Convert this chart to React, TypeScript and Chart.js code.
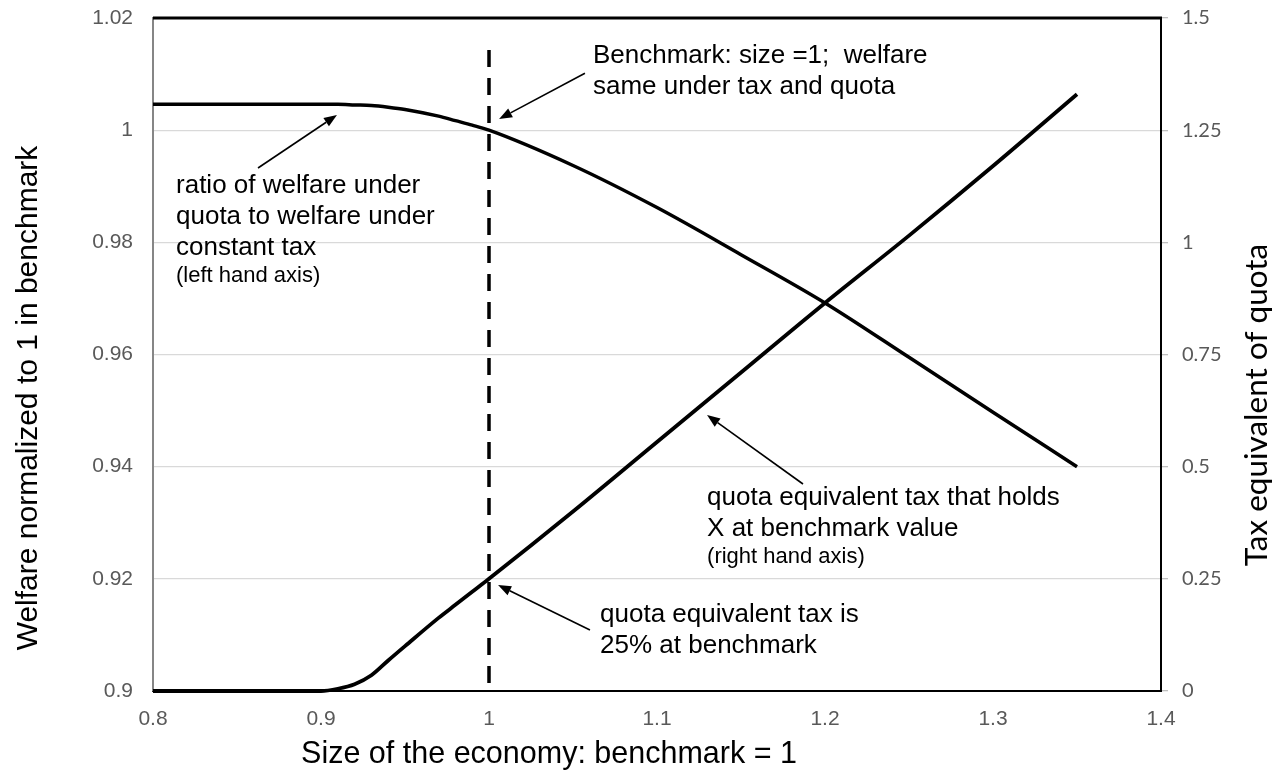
import React, { useEffect, useRef } from "react";
import { Chart, registerables } from "chart.js";

Chart.register(...registerables);

// ---------- data ----------
const sizeValues = [0.8, 0.85, 0.9, 0.91, 0.92, 0.93, 0.94, 0.95, 0.97, 0.98, 0.99, 1.0, 1.05, 1.1, 1.15, 1.2, 1.25, 1.3, 1.35];
const welfareRatio = [1.0046, 1.0046, 1.0046, 1.0046, 1.0045, 1.0044, 1.0041, 1.0037, 1.0025, 1.0017, 1.0009, 1.0, 0.9937, 0.9862, 0.9778, 0.9692, 0.9595, 0.9497, 0.94];
const quotaTax = [0, 0, 0, 0.005, 0.015, 0.035, 0.068, 0.1, 0.163, 0.192, 0.221, 0.25, 0.4, 0.555, 0.71, 0.865, 1.015, 1.17, 1.33];
const benchmarkX = [1.0, 1.0];
const benchmarkY = [1.0143, 0.9];

const xTicks = [0.8, 0.9, 1, 1.1, 1.2, 1.3, 1.4];
const leftTicks = [0.9, 0.92, 0.94, 0.96, 0.98, 1, 1.02];
const rightTicks = [0, 0.25, 0.5, 0.75, 1, 1.25, 1.5];

const xTitle = "Size of the economy: benchmark = 1";
const leftTitle = "Welfare normalized to 1 in benchmark";
const rightTitle = "Tax equivalent of quota";

// annotation anchors in data units (x, left-axis y)
const annotations = [
  {
    lines: ["ratio of welfare under", "quota to welfare under", "constant tax"],
    note: "(left hand axis)",
    at: [0.8137, 0.9888],
    from: [0.8625, 0.99326],
    to: [0.9095, 1.00271],
  },
  {
    lines: ["Benchmark: size =1;  welfare", "same under tax and quota"],
    note: "",
    at: [1.0619, 1.01198],
    from: [1.0571, 1.01015],
    to: [1.006, 1.00199],
  },
  {
    lines: ["quota equivalent tax that holds", "X at benchmark value"],
    note: "(right hand axis)",
    at: [1.1298, 0.93317],
    from: [1.1869, 0.93691],
    to: [1.1298, 0.94921],
  },
  {
    lines: ["quota equivalent tax is", "25% at benchmark"],
    note: "",
    at: [1.0661, 0.9123],
    from: [1.0601, 0.91088],
    to: [1.0054, 0.9189],
  },
];

const ARIAL = '"Liberation Sans", Arial, Helvetica, sans-serif';
const LATO = 'Lato, "Liberation Sans", sans-serif';

function drawArrow(ctx: CanvasRenderingContext2D, x1: number, y1: number, x2: number, y2: number) {
  const ang = Math.atan2(y2 - y1, x2 - x1);
  const headLen = 13;
  const headW = 5;
  const bx = x2 - headLen * Math.cos(ang);
  const by = y2 - headLen * Math.sin(ang);
  ctx.strokeStyle = "#000";
  ctx.lineWidth = 1.6;
  ctx.beginPath();
  ctx.moveTo(x1, y1);
  ctx.lineTo(bx, by);
  ctx.stroke();
  ctx.fillStyle = "#000";
  ctx.beginPath();
  ctx.moveTo(x2, y2);
  ctx.lineTo(bx + headW * Math.sin(ang), by - headW * Math.cos(ang));
  ctx.lineTo(bx - headW * Math.sin(ang), by + headW * Math.cos(ang));
  ctx.closePath();
  ctx.fill();
}

const overlayPlugin = {
  id: "overlay",
  afterDraw(chart: any) {
    const { ctx, chartArea, scales } = chart;
    const xs = scales.x;
    const ys = scales.y;
    ctx.save();
    // top frame line
    ctx.strokeStyle = "#000";
    ctx.lineWidth = 3;
    ctx.beginPath();
    ctx.moveTo(chartArea.left, chartArea.top);
    ctx.lineTo(chartArea.right + 1, chartArea.top);
    ctx.stroke();

    // annotations
    for (const a of annotations) {
      const tx = xs.getPixelForValue(a.at[0]);
      const ty = ys.getPixelForValue(a.at[1]);
      ctx.fillStyle = "#000";
      ctx.textAlign = "left";
      ctx.textBaseline = "alphabetic";
      ctx.font = `26px ${ARIAL}`;
      a.lines.forEach((l, i) => ctx.fillText(l, tx, ty + i * 31));
      if (a.note) {
        ctx.font = `22px ${ARIAL}`;
        ctx.fillText(a.note, tx, ty + (a.lines.length - 1) * 31 + 27);
      }
      drawArrow(
        ctx,
        xs.getPixelForValue(a.from[0]),
        ys.getPixelForValue(a.from[1]),
        xs.getPixelForValue(a.to[0]),
        ys.getPixelForValue(a.to[1])
      );
    }

    // axis titles
    ctx.fillStyle = "#000";
    ctx.textAlign = "center";
    ctx.textBaseline = "alphabetic";
    ctx.font = `30.5px ${ARIAL}`;
    ctx.fillText(xTitle, 549, 763);

    ctx.save();
    ctx.translate(37, 398);
    ctx.rotate(-Math.PI / 2);
    ctx.font = `30px ${ARIAL}`;
    ctx.fillText(leftTitle, 0, 0);
    ctx.restore();

    ctx.save();
    ctx.translate(1267, 405);
    ctx.rotate(-Math.PI / 2);
    ctx.font = `31.5px ${LATO}`;
    ctx.fillText(rightTitle, 0, 0);
    ctx.restore();

    ctx.restore();
  },
};

export default function App() {
  const canvasRef = useRef<HTMLCanvasElement | null>(null);

  useEffect(() => {
    if (!canvasRef.current) return;
    const welfarePts = sizeValues.map((x, i) => ({ x, y: welfareRatio[i] }));
    const taxPts = sizeValues.map((x, i) => ({ x, y: quotaTax[i] }));
    const benchPts = benchmarkX.map((x, i) => ({ x, y: benchmarkY[i] }));

    const chart = new Chart(canvasRef.current, {
      type: "scatter",
      data: {
        datasets: [
          {
            label: "benchmark",
            data: benchPts,
            showLine: true,
            borderColor: "#000",
            borderWidth: 3.5,
            borderDash: [17, 11],
            pointRadius: 0,
            yAxisID: "y",
          },
          {
            label: "welfare ratio",
            data: welfarePts,
            showLine: true,
            borderColor: "#000",
            borderWidth: 3.5,
            pointRadius: 0,
            cubicInterpolationMode: "monotone",
            yAxisID: "y",
            clip: false,
          },
          {
            label: "quota equivalent tax",
            data: taxPts,
            showLine: true,
            borderColor: "#000",
            borderWidth: 3.8,
            pointRadius: 0,
            cubicInterpolationMode: "monotone",
            yAxisID: "y1",
            clip: false,
          },
        ],
      },
      options: {
        responsive: false,
        animation: false,
        devicePixelRatio: 1,
        layout: { padding: { top: 18, left: 0, right: 0, bottom: 0 } },
        plugins: {
          legend: { display: false },
          tooltip: { enabled: false },
          title: { display: false },
        },
        scales: {
          x: {
            type: "linear",
            min: 0.8,
            max: 1.4,
            afterBuildTicks: (s: any) => {
              s.ticks = xTicks.map((v) => ({ value: v }));
            },
            afterFit: (s: any) => {
              s.height = 85;
              s.paddingLeft = 0;
              s.paddingRight = 0;
            },
            grid: { display: false, drawTicks: false },
            border: { display: true, color: "#000", width: 2 },
            ticks: {
              padding: 16,
              color: "#595959",
              font: { family: ARIAL, size: 21 },
              callback: (v: any) => String(v),
              maxRotation: 0,
              autoSkip: false,
            },
          },
          y: {
            type: "linear",
            position: "left",
            min: 0.9,
            max: 1.02,
            afterBuildTicks: (s: any) => {
              s.ticks = leftTicks.map((v) => ({ value: v }));
            },
            afterFit: (s: any) => {
              s.width = 153;
              s.paddingTop = 0;
              s.paddingBottom = 0;
            },
            grid: { color: "#d9d9d9", lineWidth: 1.3, drawTicks: false },
            border: { display: true, color: "#868686", width: 2 },
            ticks: {
              padding: 20,
              color: "#595959",
              font: { family: ARIAL, size: 21 },
              callback: (v: any) => String(v),
              autoSkip: false,
            },
          },
          y1: {
            type: "linear",
            position: "right",
            min: 0,
            max: 1.5,
            afterBuildTicks: (s: any) => {
              s.ticks = rightTicks.map((v) => ({ value: v }));
            },
            afterFit: (s: any) => {
              s.width = 125;
              s.paddingTop = 0;
              s.paddingBottom = 0;
            },
            grid: { drawOnChartArea: false, drawTicks: true, tickLength: 7, color: "#bfbfbf", lineWidth: 1.3 },
            border: { display: true, color: "#000", width: 2 },
            ticks: {
              padding: 14,
              color: "#595959",
              font: { family: LATO, size: 20 },
              callback: (v: any) => String(v),
              autoSkip: false,
            },
          },
        },
      },
      plugins: [overlayPlugin],
    } as any);

    return () => chart.destroy();
  }, []);

  return (
    <div style={{ position: "fixed", left: 0, top: 0, width: 1286, height: 776, background: "#fff" }}>
      <canvas ref={canvasRef} width={1286} height={776} style={{ display: "block" }} />
    </div>
  );
}
